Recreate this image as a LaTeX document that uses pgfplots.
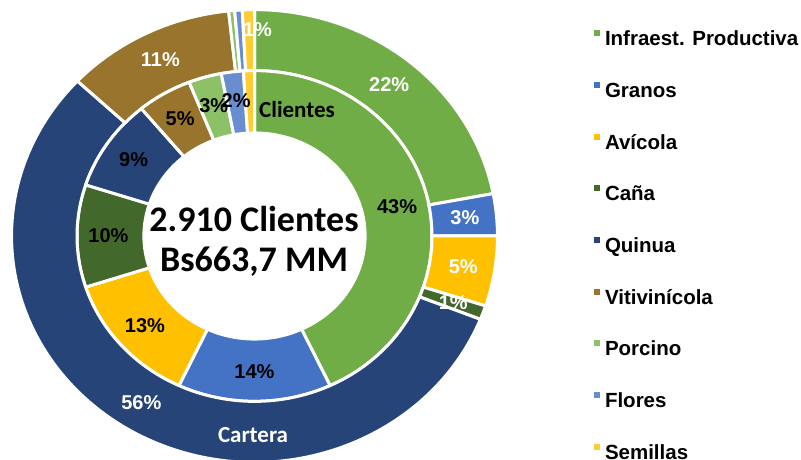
\documentclass[border=0pt]{standalone}
\usepackage{pgfplots}
\pgfplotsset{compat=1.18}
\usepackage{pgfplotstable}
\usepackage{fontspec}
\setmainfont{Liberation Sans}
\newfontfamily\calibri{Carlito}

\definecolor{c0}{HTML}{70AD47}
\definecolor{c1}{HTML}{4472C4}
\definecolor{c2}{HTML}{FFC000}
\definecolor{c3}{HTML}{43682B}
\definecolor{c4}{HTML}{264478}
\definecolor{c5}{HTML}{98742C}
\definecolor{c6}{HTML}{8CC168}
\definecolor{c7}{HTML}{698ED0}
\definecolor{c8}{HTML}{FFCD33}

% share (%) of each sector: outer ring = Cartera, inner ring = Clientes
\pgfplotstableread{
idx cartera clientes
0 22 43
1 3 14
2 5 13
3 1 10
4 56 9
5 11.3 5
6 0.4 3
7 0.5 2
8 0.8 1
}\datatable

\newcommand\pctfont{\fontsize{20}{23}\selectfont\bfseries}
\newcommand\RX{241.5pt}
\newcommand\RY{225pt}

\newcommand\donutwedge[5]{%
  \edef\dwcmd{\noexpand\fill[fill=#5,draw=white,line width=3pt,line join=round]
    (axis cs:{#4*cos(#1)},{#4*sin(#1)})
    arc[start angle=#1,end angle=#2,x radius=#4*\RX,y radius=#4*\RY]
    -- (axis cs:{#3*cos(#2)},{#3*sin(#2)})
    arc[start angle=#2,end angle=#1,x radius=#3*\RX,y radius=#3*\RY]
    -- cycle;}%
  \dwcmd}

\newcommand\slicelabel[5]{%
  \pgfmathsetmacro\slmid{((#1)+(#2))/2}%
  \pgfmathtruncatemacro\slval{round(#5)}%
  \edef\slcmd{\noexpand\node[text=#4,font=\noexpand\pctfont,inner sep=0pt]
    at (axis cs:{#3*cos(\slmid)},{#3*sin(\slmid)}) {\slval\noexpand\%};}%
  \slcmd}

\begin{document}
\begin{tikzpicture}[x=1pt,y=1pt]
\useasboundingbox (0,0) rectangle (801,460);
\xdef\accO{90}\xdef\accI{90}
\pgfplotsforeachungrouped \i in {0,...,8}{%
  \pgfplotstablegetelem{\i}{cartera}\of\datatable
  \pgfmathsetmacro\tmpE{\accO-3.6*\pgfplotsretval}%
  \expandafter\xdef\csname oS\i\endcsname{\accO}%
  \expandafter\xdef\csname oE\i\endcsname{\tmpE}%
  \xdef\accO{\tmpE}%
  \pgfplotstablegetelem{\i}{clientes}\of\datatable
  \pgfmathsetmacro\tmpE{\accI-3.6*\pgfplotsretval}%
  \expandafter\xdef\csname iS\i\endcsname{\accI}%
  \expandafter\xdef\csname iE\i\endcsname{\tmpE}%
  \xdef\accI{\tmpE}%
}
\begin{axis}[
  at={(254.5pt,224pt)}, anchor=center,
  scale only axis, width=483pt, height=450pt,
  xmin=-1, xmax=1, ymin=-1, ymax=1,
  hide axis, clip=false,
  legend style={at={(1.2029,0.9575)}, anchor=north west, draw=none, fill=none,
    inner sep=0pt, outer sep=0pt, row sep=31.65pt, column sep=5pt,
    font=\fontsize{20.5}{24}\selectfont\bfseries,
    nodes={text height=15pt, text depth=4.5pt, inner sep=0pt}},
  legend cell align=left,
  legend image code/.code={\fill[#1,draw=none] (0pt,4.3pt) rectangle (6pt,10.3pt);},
]
\pgfplotsinvokeforeach{0,...,8}{%
  \donutwedge{\csname oS#1\endcsname}{\csname oE#1\endcsname}{0.735}{1.006}{c#1}%
  \donutwedge{\csname iS#1\endcsname}{\csname iE#1\endcsname}{0.458}{0.735}{c#1}%
}
\pgfplotsinvokeforeach{0,...,5}{%
  \pgfplotstablegetelem{#1}{cartera}\of\datatable
  \slicelabel{\csname oS#1\endcsname}{\csname oE#1\endcsname}{0.875}{white}{\pgfplotsretval}%
}
\pgfplotsinvokeforeach{0,...,7}{%
  \pgfplotstablegetelem{#1}{clientes}\of\datatable
  \slicelabel{\csname iS#1\endcsname}{\csname iE#1\endcsname}{0.605}{black}{\pgfplotsretval}%
}
\node[text=white,font=\pctfont,inner sep=0pt] at (axis cs:0.0124,0.9156) {1\%};
\node[text=black,font=\fontsize{23}{26}\selectfont\calibri\bfseries,inner sep=0pt] at (axis cs:0.176,0.56) {Clientes};
\node[text=white,font=\fontsize{23}{26}\selectfont\calibri\bfseries,inner sep=0pt] at (axis cs:-0.006,-0.884) {Cartera};
\node[anchor=base,inner sep=0pt,font=\fontsize{36}{40}\selectfont\calibri\bfseries] at (axis cs:-0.002,0.0178) {2.910 Clientes};
\node[anchor=base,inner sep=0pt,font=\fontsize{36}{40}\selectfont\calibri\bfseries] at (axis cs:-0.002,-0.16) {Bs663,7 MM};
\addlegendimage{fill=c0}\addlegendentry{Infraest. Productiva}
\addlegendimage{fill=c1}\addlegendentry{Granos}
\addlegendimage{fill=c2}\addlegendentry{Avícola}
\addlegendimage{fill=c3}\addlegendentry{Caña}
\addlegendimage{fill=c4}\addlegendentry{Quinua}
\addlegendimage{fill=c5}\addlegendentry{Vitivinícola}
\addlegendimage{fill=c6}\addlegendentry{Porcino}
\addlegendimage{fill=c7}\addlegendentry{Flores}
\addlegendimage{fill=c8}\addlegendentry{Semillas}
\end{axis}
\end{tikzpicture}
\end{document}
